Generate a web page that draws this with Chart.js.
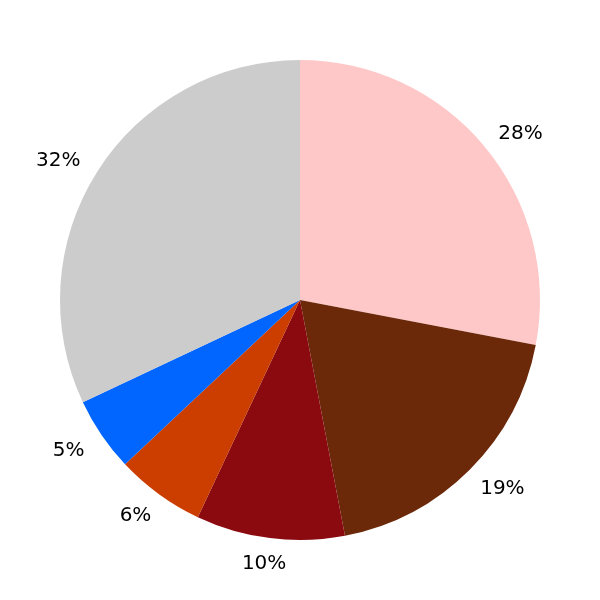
<!DOCTYPE html>
<html>
<head>
<meta charset="utf-8">
<script src="https://cdn.jsdelivr.net/npm/chart.js@4"></script>
<style>
html,body{margin:0;padding:0;background:#fff}
#wrap{width:600px;height:600px}
</style>
</head>
<body>
<div id="wrap"><canvas id="chart" width="600" height="600"></canvas></div>
<script>
// slice values in drawing order, clockwise from the top
const shares=[28,19,10,6,5,32]
const labels=['28%','19%','10%','6%','5%','32%']
const colors=['#FFC8C8','#6B290A','#8A0A10','#CC3D00','#0066FF','#CCCCCC']

// draws the percentage text just outside each slice
const outsideLabels={
id:'outsideLabels',
afterDatasetsDraw(chart){
const ctx=chart.ctx
const meta=chart.getDatasetMeta(0)
ctx.save()
ctx.font='20px "DejaVu Sans"'
ctx.fillStyle='#000'
ctx.textAlign='center'
ctx.textBaseline='middle'
meta.data.forEach((arc,i)=>{
const p=arc.getProps(['x','y','startAngle','endAngle','outerRadius'],true)
const mid=(p.startAngle+p.endAngle)/2
const r=p.outerRadius*1.1
const w=ctx.measureText(labels[i]).width
const x=p.x+Math.cos(mid)*r+Math.cos(mid)*w/2
const y=p.y+Math.sin(mid)*r+2
ctx.fillText(labels[i],x,y)
})
ctx.restore()
}
}

new Chart(document.getElementById('chart'),{
type:'pie',
data:{
labels:labels,
datasets:[{
data:shares,
backgroundColor:colors,
borderWidth:0
}]
},
options:{
responsive:false,
animation:false,
layout:{padding:60},
plugins:{
legend:{display:false},
tooltip:{enabled:false}
}
},
plugins:[outsideLabels]
})
</script>
</body>
</html>
